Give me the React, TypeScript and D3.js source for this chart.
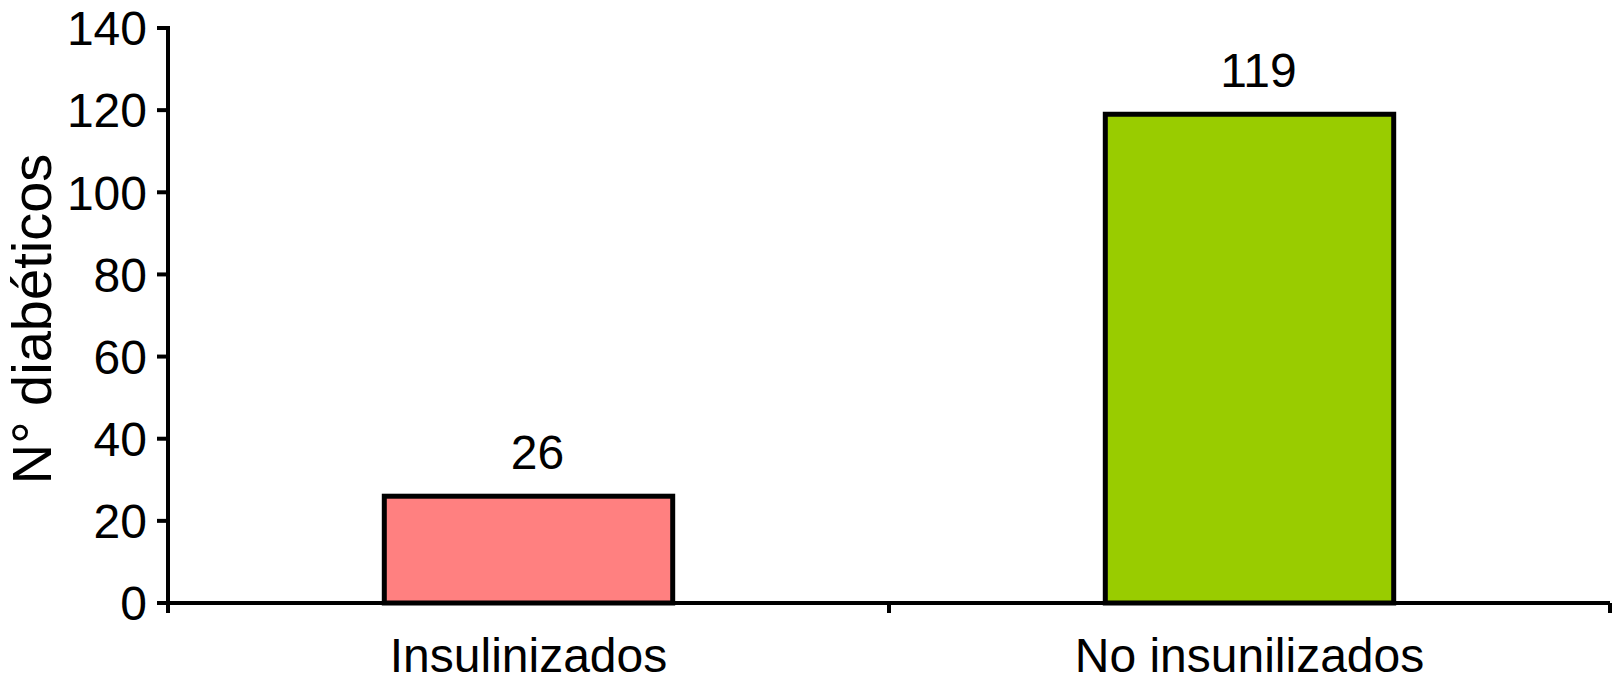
import React from "react";
import * as d3 from "d3";

const categories = ["Insulinizados", "No insunilizados"];
const values = [26, 119];
const colors = ["#FF8080", "#99CC00"];
const yTicks = [0, 20, 40, 60, 80, 100, 120, 140];

export default function App() {
  const width = 1613;
  const height = 683;
  const left = 168, right = 1610, top = 28, bottom = 603;
  const font = "Arial, 'Liberation Sans', sans-serif";

  const x = d3.scaleBand<string>()
    .domain(categories)
    .range([left, right])
    .paddingInner(0.6)
    .paddingOuter(0.3);
  const step = x.step();
  const y = d3.scaleLinear().domain([0, 140]).range([bottom, top]);

  return (
    <svg width={width} height={height} style={{ position: "absolute", left: 0, top: 0 }}>
      {categories.map((c, i) => (
        <g key={c}>
          <rect
            x={x(c)!}
            y={y(values[i])}
            width={x.bandwidth()}
            height={y(0) - y(values[i])}
            fill={colors[i]}
            stroke="#000"
            strokeWidth={5}
          />
          {/* value labels sit a little right of bar centre in the original */}
          <text
            x={x(c)! + x.bandwidth() / 2 + 9}
            y={y(values[i]) - 27}
            textAnchor="middle"
            fontFamily={font}
            fontSize={48}
          >
            {values[i]}
          </text>
          <text
            x={x(c)! + x.bandwidth() / 2}
            y={672}
            textAnchor="middle"
            fontFamily={font}
            fontSize={48}
          >
            {c}
          </text>
        </g>
      ))}
      {/* y axis */}
      <line x1={left} x2={left} y1={top - 2} y2={bottom + 10} stroke="#000" strokeWidth={4} />
      {yTicks.map(t => (
        <g key={t}>
          <line x1={left - 11} x2={left} y1={y(t)} y2={y(t)} stroke="#000" strokeWidth={4} />
          <text
            x={147}
            y={y(t)}
            dy="0.36em"
            textAnchor="end"
            fontFamily={font}
            fontSize={48}
          >
            {t}
          </text>
        </g>
      ))}
      {/* x axis */}
      <line x1={left - 11} x2={right} y1={bottom} y2={bottom} stroke="#000" strokeWidth={4} />
      {[0, 1, 2].map(k => (
        <line key={k} x1={left + k * step} x2={left + k * step} y1={bottom} y2={bottom + 10}
          stroke="#000" strokeWidth={4} />
      ))}
      <text
        transform={`translate(51,319) rotate(-90)`}
        textAnchor="middle"
        fontFamily={font}
        fontSize={56}
      >
        N° diabéticos
      </text>
    </svg>
  );
}
